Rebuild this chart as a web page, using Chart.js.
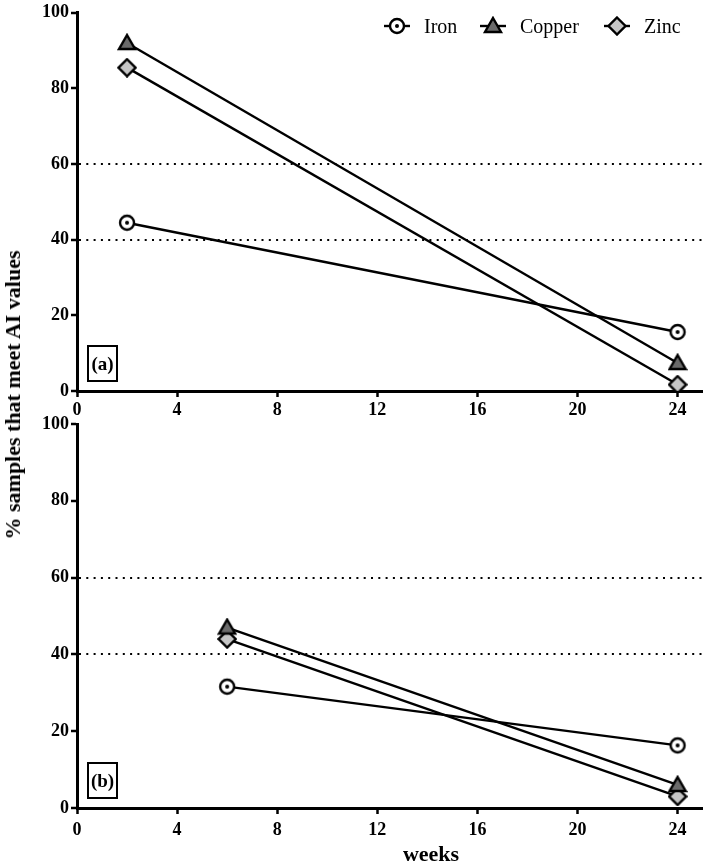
<!DOCTYPE html>
<html>
<head>
<meta charset="utf-8">
<script src="https://cdn.jsdelivr.net/npm/chart.js@4.4.1/dist/chart.umd.min.js"></script>
<style>
  body { margin: 0; background: #fff; overflow: hidden; }
  #wrap { position: relative; width: 709px; height: 863px; overflow: hidden; }
  #wrap > canvas { position: absolute; left: 0; }
  #chartA { top: 0; }
  #chartB { top: 410px; }
  .ytitle {
    position: absolute; left: 13px; top: 395px;
    transform: translate(-50%, -50%) rotate(-90deg);
    font: bold 22px 'Liberation Serif', serif; white-space: nowrap; color: #000;
  }
  .xtitle {
    position: absolute; left: 431px; top: 854px;
    transform: translate(-50%, -50%);
    font: bold 22px 'Liberation Serif', serif; white-space: nowrap; color: #000;
  }
  .panel {
    position: absolute; width: 27px; height: 33px; border: 2px solid #000;
    font: bold 19px 'Liberation Serif', serif; line-height: 33px; text-align: center; color: #000;
  }
  .leg {
    position: absolute; top: 16px; height: 20px; display: flex; align-items: center;
    font: 20px 'Liberation Serif', serif; color: #000; white-space: nowrap;
  }
  .leg canvas { margin-right: 14px; }
</style>
</head>
<body>
<div id="wrap">
  <canvas id="chartA" width="713" height="425"></canvas>
  <canvas id="chartB" width="713" height="453"></canvas>
  <div class="ytitle">% samples that meet AI values</div>
  <div class="xtitle">weeks</div>
  <div class="panel" style="left:87px;top:345px;">(a)</div>
  <div class="panel" style="left:87px;top:762px;">(b)</div>
  <div id="legend"></div>
</div>
<script>
document.addEventListener('DOMContentLoaded', function () {

    const seriesNames = ['Iron', 'Copper', 'Zinc'];
    const yTicks = [0, 20, 40, 60, 80, 100];
    const xTicks = [0, 4, 8, 12, 16, 20, 24];
    const refLines = [40, 60];

    // panel (a)
    const weeksA = [2, 24];
    const ironA = [44.5, 15.6];
    const copperA = [92, 7.4];
    const zincA = [85.5, 1.7];

    // panel (b)
    const weeksB = [6, 24];
    const ironB = [31.6, 16.3];
    const copperB = [47, 6];
    const zincB = [44, 3];

    function makeMarker(kind, withLine) {
        var c = document.createElement('canvas');
        c.width = withLine ? 26 : 20;
        c.height = 20;
        var g = c.getContext('2d');
        var cx = c.width / 2, cy = 10;
        g.strokeStyle = '#000';
        g.lineWidth = 2.4;
        if (withLine) {
            g.beginPath(); g.moveTo(0, cy); g.lineTo(c.width, cy); g.stroke();
        }
        g.beginPath();
        if (kind === 'circle') {
            g.arc(cx, cy, 7, 0, Math.PI * 2);
            g.fillStyle = '#fff';
        } else if (kind === 'triangle') {
            g.moveTo(cx, cy - 8); g.lineTo(cx + 8, cy + 6); g.lineTo(cx - 8, cy + 6); g.closePath();
            g.fillStyle = '#6b6b6b';
        } else {
            g.moveTo(cx, cy - 8.5); g.lineTo(cx + 8.5, cy); g.lineTo(cx, cy + 8.5); g.lineTo(cx - 8.5, cy); g.closePath();
            g.fillStyle = '#c6c6c6';
        }
        g.fill();
        g.stroke();
        if (kind === 'circle') {
            g.beginPath(); g.arc(cx, cy, 2, 0, Math.PI * 2); g.fillStyle = '#000'; g.fill();
        }
        return c;
    }

    const kinds = ['circle', 'triangle', 'diamond'];
    const markers = kinds.map(function (k) { return makeMarker(k, false); });

    // legend sits inside panel (a), top right
    const legendLeft = [384, 480, 604];
    var legend = document.getElementById('legend');
    seriesNames.forEach(function (name, i) {
        var item = document.createElement('div');
        item.className = 'leg';
        item.style.left = legendLeft[i] + 'px';
        item.appendChild(makeMarker(kinds[i], true));
        var t = document.createElement('span');
        t.textContent = name;
        item.appendChild(t);
        legend.appendChild(item);
    });

    function pts(xs, ys) {
        return xs.map(function (x, i) { return { x: x, y: ys[i] }; });
    }

    function buildDatasets(xs, series) {
        return series.map(function (ys, i) {
            return {
                label: seriesNames[i],
                data: pts(xs, ys),
                showLine: true,
                borderColor: '#000',
                borderWidth: 2.4,
                pointStyle: markers[i],
                pointRadius: 8,
                fill: false,
                tension: 0
            };
        });
    }

    const tickFont = { family: 'Liberation Serif', size: 18, weight: 'bold' };

    function scales(xHeight, tickPad) {
        return {
            x: {
                type: 'linear',
                min: 0, max: 25,
                afterBuildTicks: function (s) { s.ticks = xTicks.map(function (v) { return { value: v }; }); },
                ticks: { font: tickFont, color: '#000', padding: tickPad, maxRotation: 0, includeBounds: false },
                grid: { drawOnChartArea: false, tickLength: 6, tickWidth: 2.5, tickColor: '#000' },
                border: { color: '#000', width: 3 },
                afterFit: function (s) { s.height = xHeight; }
            },
            y: {
                min: 0, max: 100,
                afterBuildTicks: function (s) { s.ticks = yTicks.map(function (v) { return { value: v }; }); },
                ticks: { font: tickFont, color: '#000', padding: 2 },
                grid: {
                    color: function (ctx) { return refLines.indexOf(ctx.tick && ctx.tick.value) >= 0 ? '#000' : 'rgba(0,0,0,0)'; },
                    lineWidth: 2,
                    tickLength: 6, tickWidth: 2.5, tickColor: '#000'
                },
                border: { color: '#000', width: 3, dash: [2, 5.3] },
                afterFit: function (s) { s.width = 77; }
            }
        };
    }

    var ctxA = document.getElementById('chartA').getContext('2d');
    var chartA = new Chart(ctxA, {
        type: 'scatter',
        data: { datasets: buildDatasets(weeksA, [ironA, copperA, zincA]) },
        options: {
            responsive: false,
            animation: false,
            layout: { padding: { top: 8, right: 0, left: 0, bottom: 0 } },
            scales: scales(34, 3),
            plugins: { tooltip: { enabled: false }, legend: { display: false } }
        }
    });

    var ctxB = document.getElementById('chartB').getContext('2d');
    var chartB = new Chart(ctxB, {
        type: 'scatter',
        data: { datasets: buildDatasets(weeksB, [ironB, copperB, zincB]) },
        options: {
            responsive: false,
            animation: false,
            layout: { padding: { top: 14, right: 0, left: 0, bottom: 0 } },
            scales: scales(55, 6),
            plugins: { tooltip: { enabled: false }, legend: { display: false } }
        }
    });
});
</script>
</body>
</html>
